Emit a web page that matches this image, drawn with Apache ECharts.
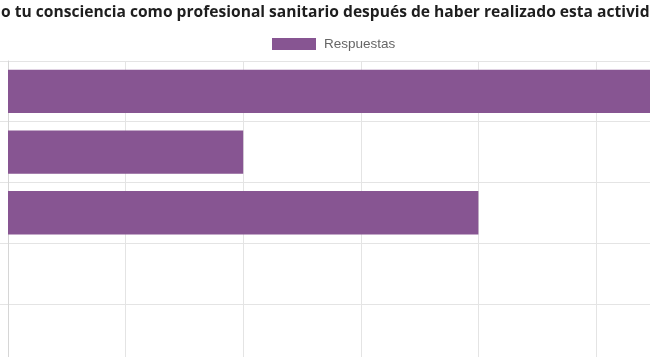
<!DOCTYPE html>
<html>
<head>
<meta charset="utf-8">
<script src="https://cdn.jsdelivr.net/npm/echarts@6/dist/echarts.min.js"></script>
<style>html,body{margin:0;padding:0;background:#fff;overflow:hidden}#c{width:720px;height:365px}</style>
</head>
<body>
<div id="c"></div>
<script>
const titleText = "¿Cómo ha cambiado tu consciencia como profesional sanitario después de haber realizado esta actividad?";
const hiddenPrefix = "¿Cómo ha cambiad";
const visiblePart = "o tu consciencia como profesional sanitario después de haber realizado esta activid";
const seriesName = "Respuestas";
const categories = ["Mucho", "Bastante", "Algo", "Poco", "Nada"];
const values = [6, 2, 4, 0, 0];
const xTicks = { min: 0, max: 6, interval: 1 };

const ctx = document.createElement('canvas').getContext('2d');
ctx.font = 'bold 16px "Open Sans"';
const titleSize = 16 * 649 / ctx.measureText(visiblePart).width;
ctx.font = 'bold ' + titleSize + 'px "Open Sans"';
const titleLeft = 1 - ctx.measureText(hiddenPrefix).width;

const chart = echarts.init(document.getElementById('c'), null, { renderer: 'canvas' });
chart.setOption({
  animation: false,
  backgroundColor: '#fff',
  title: {
    text: titleText,
    left: titleLeft,
    top: 5,
    padding: 0,
    textStyle: { fontFamily: 'Open Sans', fontWeight: 'bold', fontSize: titleSize, color: '#1e1e1e' }
  },
  legend: {
    data: [seriesName],
    left: 272,
    top: 37,
    padding: 0,
    itemWidth: 44,
    itemHeight: 12,
    itemGap: 10,
    icon: 'rect',
    textStyle: { fontFamily: 'Liberation Sans', fontSize: 13.5, color: '#666', padding: [0, 0, 0, 3] }
  },
  grid: { left: 8, right: 6.4, top: 61, bottom: 0.5, containLabel: false },
  xAxis: {
    type: 'value',
    min: xTicks.min, max: xTicks.max, interval: xTicks.interval,
    axisLine: { show: false },
    axisTick: { show: false },
    axisLabel: { show: false },
    splitLine: { show: true, lineStyle: { color: '#e4e4e4', width: 1 } }
  },
  yAxis: {
    type: 'category',
    data: categories,
    inverse: true,
    axisLine: { show: true, lineStyle: { color: '#d6d6d6', width: 1 } },
    axisTick: { show: true, length: 8, lineStyle: { color: '#e4e4e4' } },
    axisLabel: { show: false },
    splitLine: { show: true, lineStyle: { color: '#e4e4e4', width: 1 } }
  },
  series: [{
    name: seriesName,
    type: 'bar',
    data: values,
    barWidth: '71.4%',
    itemStyle: { color: '#875592' }
  }]
});
</script>
</body>
</html>
